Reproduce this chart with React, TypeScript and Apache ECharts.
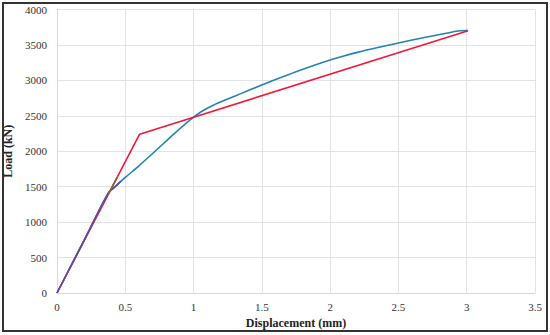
import React, { useEffect, useRef } from "react";
import * as echarts from "echarts";

const blueX = [0, 0.2, 0.375, 0.42, 0.5, 0.6, 0.7, 0.8, 0.9, 1.0, 1.05, 1.1, 1.15, 1.2, 1.3, 1.4, 1.5, 1.6, 1.75, 1.9, 2.0, 2.1, 2.2, 2.35, 2.5, 2.7, 2.85, 2.95, 3.01];
const blueY = [0, 750, 1410, 1490, 1630, 1795, 1968, 2145, 2318, 2480, 2550, 2607, 2654, 2697, 2777, 2856, 2934, 3011, 3122, 3225, 3288, 3344, 3395, 3463, 3528, 3608, 3664, 3700, 3703];
const redX = [0, 0.605, 3.01];
const redY = [0, 2240, 3700];
const purpleX = [0, 0.2, 0.375, 0.42, 0.47];
const purpleY = [0, 750, 1410, 1490, 1580];
const oliveX = [0.375, 0.44];
const oliveY = [1388, 1630];
const xTicks = ["0", "0.5", "1", "1.5", "2", "2.5", "3", "3.5"];

const zip = (xs: number[], ys: number[]) => xs.map((x, i) => [x, ys[i]]);

export default function App() {
  const ref = useRef<HTMLDivElement>(null);
  useEffect(() => {
    document.body.style.margin = "0";
    const chart = echarts.init(ref.current!, null, { renderer: "svg" });
    const font = "'Times New Roman', 'Liberation Serif', serif";
    chart.setOption({
      animation: false,
      backgroundColor: "#fff",
      textStyle: { fontFamily: font },
      grid: { left: 57, right: 15, top: 9.5, bottom: 42, containLabel: false, outerBoundsMode: "none" },
      xAxis: {
        type: "value",
        min: 0,
        max: 3.5,
        interval: 0.5,
        name: "Displacement (mm)",
        nameLocation: "middle",
        nameGap: 23,
        nameTextStyle: { fontFamily: font, fontWeight: "bold", fontSize: 12, color: "#222" },
        axisLine: { show: true, lineStyle: { color: "#d9d9d9" } },
        axisTick: { show: false },
        axisLabel: {
          fontFamily: font, fontSize: 11, color: "#333", margin: 8,
          formatter: (v: number) => xTicks[Math.round(v / 0.5)] ?? String(v),
        },
        splitLine: { show: true, lineStyle: { color: "#e3e3e3" } },
      },
      yAxis: {
        type: "value",
        min: 0,
        max: 4000,
        interval: 500,
        name: "Load (kN)",
        nameLocation: "middle",
        nameGap: 40,
        nameTextStyle: { fontFamily: font, fontWeight: "bold", fontSize: 12, color: "#222" },
        axisLine: { show: true, lineStyle: { color: "#d9d9d9" } },
        axisTick: { show: false },
        axisLabel: { fontFamily: font, fontSize: 11, color: "#333", margin: 10, formatter: (v: number) => String(v) },
        splitLine: { show: true, lineStyle: { color: "#e3e3e3" } },
      },
      graphic: [
        {
          type: "rect",
          shape: { x: 3, y: 3, width: 544, height: 328 },
          style: { fill: "none", stroke: "#333", lineWidth: 2 },
          silent: true,
          z: 100,
        },
      ],
      series: [
        {
          type: "line",
          data: zip(blueX, blueY),
          smooth: 0.3,
          showSymbol: false,
          lineStyle: { color: "#2283b5", width: 1.6 },
          z: 2,
        },
        {
          type: "line",
          data: zip(redX, redY),
          showSymbol: false,
          lineStyle: { color: "#f2183c", width: 1.6 },
          z: 3,
        },
        {
          type: "line",
          data: zip(purpleX, purpleY),
          smooth: 0.3,
          showSymbol: false,
          lineStyle: { color: "#5a4ea4", width: 1.6 },
          z: 4,
        },
        {
          type: "line",
          data: zip(oliveX, oliveY),
          showSymbol: false,
          lineStyle: { color: "#7d6a3a", width: 1.6 },
          z: 4,
        },
      ],
    });
    return () => chart.dispose();
  }, []);
  return <div ref={ref} style={{ width: 550, height: 335, position: "absolute", left: 0, top: 0 }} />;
}
